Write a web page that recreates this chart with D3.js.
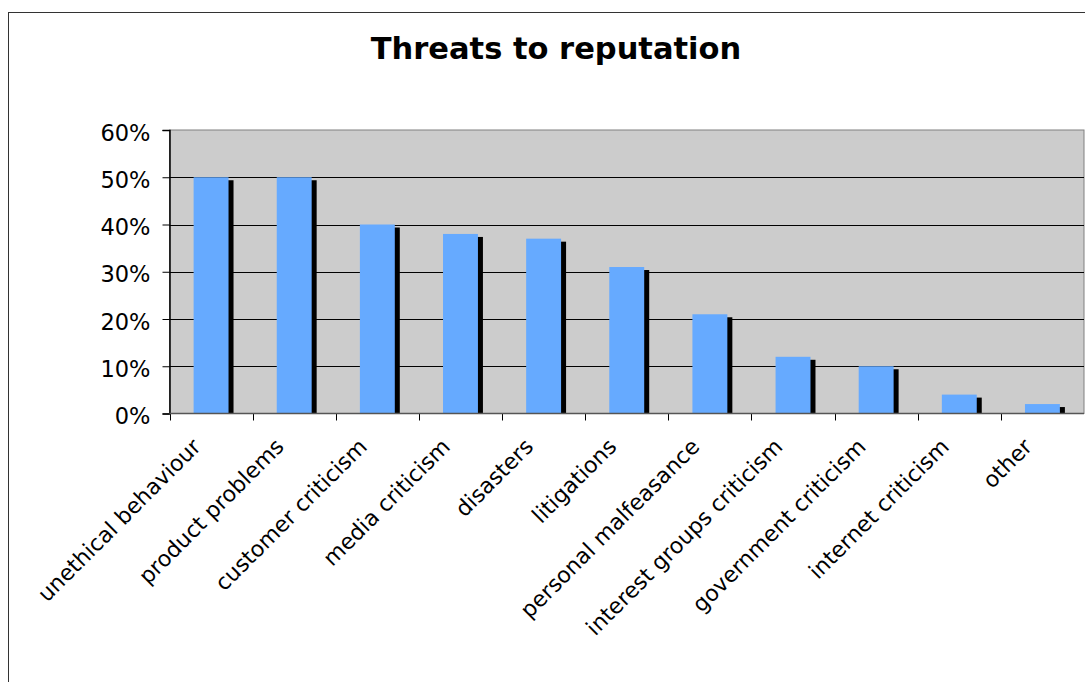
<!DOCTYPE html>
<html>
<head>
<meta charset="utf-8">
<script src="https://cdn.jsdelivr.net/npm/d3@7"></script>
<style>
    body { margin: 0; background: #fff; }
    text { font-family: "DejaVu Sans", Verdana, sans-serif; fill: #000; }
</style>
</head>
<body>
<div id="chart-area"></div>
<script>
// chart data
const categories = ["unethical behaviour", "product problems", "customer criticism", "media criticism",
    "disasters", "litigations", "personal malfeasance", "interest groups criticism",
    "government criticism", "internet criticism", "other"]
const values = [0.50, 0.50, 0.40, 0.38, 0.37, 0.31, 0.21, 0.12, 0.10, 0.04, 0.02]
const yTicks = [0, 0.1, 0.2, 0.3, 0.4, 0.5, 0.6]
const title = "Threats to reputation"

const width = 1085, height = 682
const plot = { left: 169.5, top: 130, right: 1084, bottom: 413.5 }

const svg = d3.select("#chart-area").append("svg")
    .attr("width", width)
    .attr("height", height)

// outer chart frame (runs off the right/bottom edge like the original)
svg.append("rect")
    .attr("x", 8.5).attr("y", 12.5)
    .attr("width", width + 20).attr("height", height + 20)
    .attr("fill", "#fff")
    .attr("stroke", "#333")
    .attr("stroke-width", 1)

// scales
const x = d3.scaleBand()
    .domain(categories)
    .range([plot.left, plot.right])
    .paddingInner(0.58)
    .paddingOuter(0.29)

const band = d3.scaleBand().domain(categories).range([plot.left, plot.right])

const y = d3.scaleLinear()
    .domain([0, 0.6])
    .range([plot.bottom, plot.top])

// grey plot area
svg.append("rect")
    .attr("x", plot.left).attr("y", plot.top)
    .attr("width", plot.right - plot.left)
    .attr("height", plot.bottom - plot.top)
    .attr("fill", "#cccccc")
    .attr("stroke", "#808080")
    .attr("stroke-width", 1)

// gridlines
svg.append("g")
    .selectAll("line")
    .data(yTicks.filter(d => d > 0 && d < 0.6))
    .enter().append("line")
    .attr("x1", plot.left).attr("x2", plot.right)
    .attr("y1", d => Math.round(y(d)) + 0.5)
    .attr("y2", d => Math.round(y(d)) + 0.5)
    .attr("stroke", "#000")
    .attr("stroke-width", 1)

// clip so the shadows stop at the axis
svg.append("clipPath").attr("id", "plot-clip")
    .append("rect")
    .attr("x", plot.left).attr("y", plot.top)
    .attr("width", plot.right - plot.left)
    .attr("height", plot.bottom - plot.top)

const barsG = svg.append("g").attr("clip-path", "url(#plot-clip)")

// shadows
barsG.selectAll("rect.shadow")
    .data(values)
    .enter().append("rect")
    .attr("class", "shadow")
    .attr("x", (d, i) => x(categories[i]) + 5)
    .attr("y", d => y(d) + 3)
    .attr("width", x.bandwidth())
    .attr("height", d => y(0) - y(d))
    .attr("fill", "#000")

// bars
barsG.selectAll("rect.bar")
    .data(values)
    .enter().append("rect")
    .attr("class", "bar")
    .attr("x", (d, i) => x(categories[i]))
    .attr("y", d => y(d))
    .attr("width", x.bandwidth())
    .attr("height", d => y(0) - y(d))
    .attr("fill", "#66aaff")

// y axis
const yAxis = svg.append("g")
    .attr("transform", `translate(${plot.left},0)`)
    .call(d3.axisLeft(y).tickValues(yTicks).tickFormat(d3.format(".0%")).tickSize(7).tickPadding(12))
yAxis.select(".domain").attr("stroke", "#000").attr("stroke-width", 1.5)
yAxis.selectAll("text")
    .attr("font-size", "22.5px")
    .attr("font-family", "DejaVu Sans, Verdana, sans-serif")
    .attr("dy", "0.45em")

// x axis: ticks on the band boundaries
const xAxisG = svg.append("g")
svg.append("line")
    .attr("x1", plot.left).attr("x2", plot.right)
    .attr("y1", plot.bottom).attr("y2", plot.bottom)
    .attr("stroke", "#555").attr("stroke-width", 1.5)
xAxisG.selectAll("line")
    .data(categories)
    .enter().append("line")
    .attr("x1", d => Math.round(band(d)) + 0.5)
    .attr("x2", d => Math.round(band(d)) + 0.5)
    .attr("y1", plot.bottom)
    .attr("y2", plot.bottom + 7)
    .attr("stroke", "#000")

xAxisG.selectAll("text")
    .data(categories)
    .enter().append("text")
    .attr("transform", d => `translate(${band(d) + band.bandwidth() / 2 - 9},448) rotate(-45)`)
    .attr("text-anchor", "end")
    .attr("font-size", "22px")
    .text(d => d)

// title
svg.append("text")
    .attr("x", 556).attr("y", 59)
    .attr("text-anchor", "middle")
    .attr("font-size", "30.5px")
    .attr("font-weight", "bold")
    .text(title)
</script>
</body>
</html>
